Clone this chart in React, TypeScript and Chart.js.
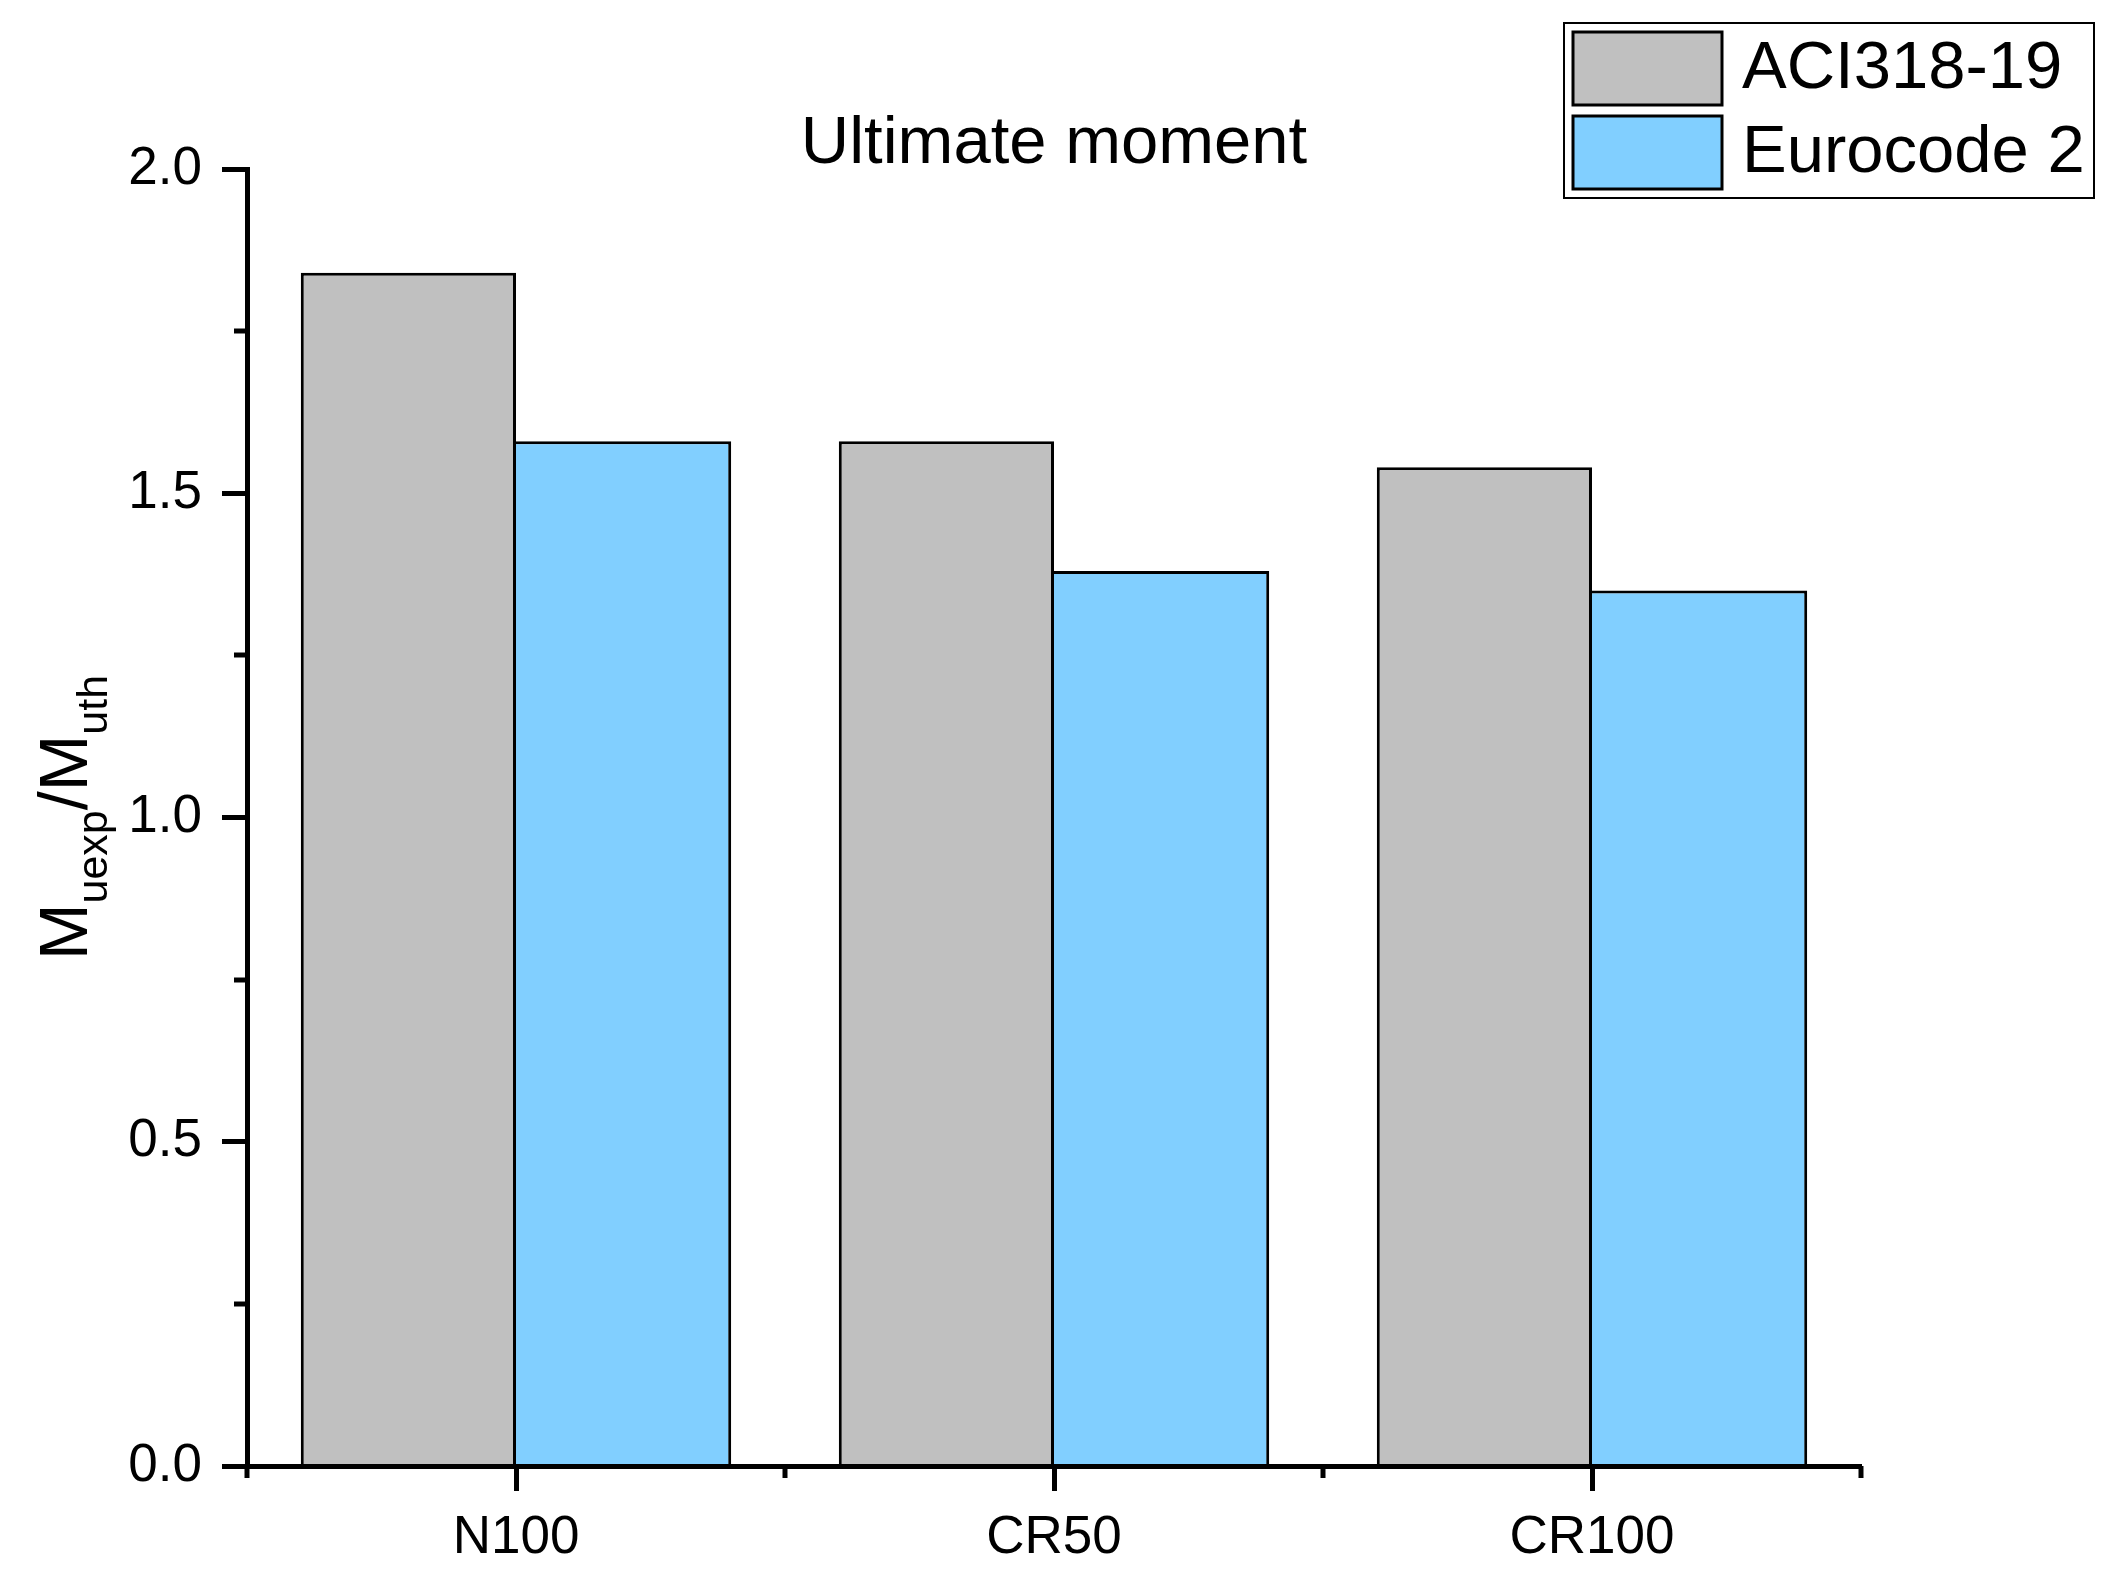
import { useEffect, useRef } from "react";
import { Chart, registerables } from "chart.js";

Chart.register(...registerables);

// data
const categories = ["N100", "CR50", "CR100"];
const aciValues = [1.84, 1.58, 1.54];
const eurocodeValues = [1.58, 1.38, 1.35];
const seriesNames = ["ACI318-19", "Eurocode 2"];
const seriesColors = ["#C0C0C0", "#81CFFF"];
const yMinorTicks = [0.25, 0.75, 1.25, 1.75];
const chartTitle = "Ultimate moment";
// y title pieces: [text, isSubscript]
const yTitleParts: [string, boolean][] = [
    ["M", false],
    ["uexp", true],
    ["/M", false],
    ["uth", true],
];

const FONT = '"Liberation Sans", Arial, sans-serif';

const decorPlugin = {
    id: "decor",
    afterDraw(chart: any) {
        const { ctx, chartArea, scales } = chart;
        const xs = scales.x;
        const ys = scales.y;
        ctx.save();
        ctx.strokeStyle = "#000";
        ctx.lineWidth = 5;
        ctx.lineCap = "butt";

        // minor ticks on y
        yMinorTicks.forEach((v) => {
            const py = Math.round(ys.getPixelForValue(v));
            ctx.beginPath();
            ctx.moveTo(chartArea.left, py);
            ctx.lineTo(chartArea.left - 13, py);
            ctx.stroke();
        });

        // minor ticks on x, at category edges
        for (let i = 0; i <= categories.length; i++) {
            const px = Math.round(xs.getPixelForValue(i - 0.5));
            ctx.beginPath();
            ctx.moveTo(px, chartArea.bottom);
            ctx.lineTo(px, chartArea.bottom + 12);
            ctx.stroke();
        }

        // title
        ctx.fillStyle = "#000";
        ctx.font = `67px ${FONT}`;
        ctx.textAlign = "center";
        ctx.textBaseline = "alphabetic";
        ctx.fillText(chartTitle, (chartArea.left + chartArea.right) / 2, 163);

        // y axis title with subscripts
        const mainSize = 68;
        const subSize = 43;
        ctx.textAlign = "left";
        let total = 0;
        yTitleParts.forEach(([t, sub]) => {
            ctx.font = `${sub ? subSize : mainSize}px ${FONT}`;
            total += ctx.measureText(t).width;
        });
        ctx.save();
        ctx.translate(87, (chartArea.top + chartArea.bottom) / 2);
        ctx.rotate(-Math.PI / 2);
        let cx = -total / 2;
        yTitleParts.forEach(([t, sub]) => {
            ctx.font = `${sub ? subSize : mainSize}px ${FONT}`;
            ctx.fillText(t, cx, sub ? 20 : 0);
            cx += ctx.measureText(t).width;
        });
        ctx.restore();

        // legend
        ctx.lineWidth = 2;
        ctx.strokeRect(1564, 23, 530, 175);
        ctx.font = `67px ${FONT}`;
        ctx.textBaseline = "middle";
        seriesNames.forEach((name, i) => {
            const top = 32 + i * 84;
            ctx.fillStyle = seriesColors[i];
            ctx.fillRect(1573, top, 149, 73);
            ctx.lineWidth = 3;
            ctx.strokeRect(1573, top, 149, 73);
            ctx.fillStyle = "#000";
            ctx.fillText(name, 1742, top + 38);
        });
        ctx.restore();
    },
};

const App = () => {
    const chartRef = useRef<HTMLCanvasElement>(null);

    useEffect(() => {
        document.body.style.margin = "0";
        let chartInstance: Chart | undefined;
        if (chartRef.current) {
            chartInstance = new Chart(chartRef.current, {
                type: "bar",
                data: {
                    labels: categories,
                    datasets: [
                        {
                            label: seriesNames[0],
                            data: aciValues,
                            backgroundColor: seriesColors[0],
                            borderColor: "#000",
                            borderWidth: { top: 3, left: 3, right: 3, bottom: 0 },
                            categoryPercentage: 0.8,
                            barPercentage: 1.0,
                        },
                        {
                            label: seriesNames[1],
                            data: eurocodeValues,
                            backgroundColor: seriesColors[1],
                            borderColor: "#000",
                            borderWidth: { top: 3, left: 0, right: 3, bottom: 0 },
                            categoryPercentage: 0.8,
                            barPercentage: 1.0,
                        },
                    ],
                },
                options: {
                    animation: false,
                    responsive: true,
                    maintainAspectRatio: false,
                    devicePixelRatio: 1,
                    layout: { padding: { top: 169, right: 256, left: 0, bottom: 0 } },
                    plugins: {
                        legend: { display: false },
                        title: { display: false },
                        tooltip: { enabled: false },
                    },
                    scales: {
                        x: {
                            afterFit: (s: any) => {
                                s.height = 104;
                            },
                            grid: {
                                z: 1,
                                offset: false,
                                drawOnChartArea: false,
                                drawTicks: true,
                                tickLength: 25,
                                tickWidth: 5,
                                tickColor: "#000",
                            },
                            border: { z: 1, display: true, color: "#000", width: 5 },
                            ticks: {
                                color: "#000",
                                padding: 16,
                                font: { family: FONT, size: 53 },
                            },
                        },
                        y: {
                            min: 0,
                            max: 2,
                            afterFit: (s: any) => {
                                s.width = 247;
                            },
                            grid: {
                                z: 1,
                                drawOnChartArea: false,
                                drawTicks: true,
                                tickLength: 25,
                                tickWidth: 5,
                                tickColor: "#000",
                            },
                            border: { z: 1, display: true, color: "#000", width: 5 },
                            ticks: {
                                stepSize: 0.5,
                                color: "#000",
                                padding: 20,
                                font: { family: FONT, size: 53 },
                                callback: (v: any) => Number(v).toFixed(1),
                            },
                        },
                    },
                },
                plugins: [decorPlugin],
            });
        }
        return () => {
            if (chartInstance) {
                chartInstance.destroy();
            }
        };
    }, []);

    return (
        <div style={{ width: 2117, height: 1570, position: "relative", background: "#fff" }}>
            <canvas ref={chartRef} />
        </div>
    );
};

export default App;
